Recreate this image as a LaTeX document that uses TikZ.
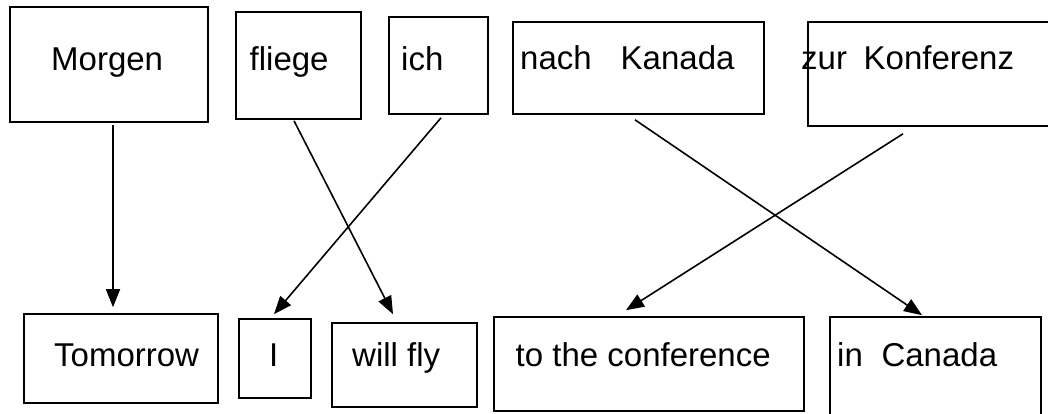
\documentclass[tikz,border=0pt]{standalone}
\usepackage{fontspec}
\setmainfont{Liberation Sans}
\usetikzlibrary{arrows.meta,calc}
\begin{document}
\begin{tikzpicture}[x=1pt,y=-1pt,
  box/.style={draw, line width=1.6pt, rectangle, inner sep=0pt},
  word/.style={anchor=base west, inner sep=0pt, font=\fontsize{33}{40}\selectfont},
  link/.style={line width=1.6pt, -{Triangle[length=18pt,width=14pt]}}]
\useasboundingbox[fill=white] (0,0) rectangle (1048,413);
\clip (0,0) rectangle (1048,413);
% top row boxes
\node[box, minimum width=198pt, minimum height=115pt] (morgen) at (109,64.5) {};
\node[box, minimum width=125pt, minimum height=107pt] (fliege) at (298.5,65.5) {};
\node[box, minimum width=99pt, minimum height=97pt] (ich) at (438.5,65.5) {};
\node[box, minimum width=251pt, minimum height=92pt] (nachk) at (638.5,68) {};
\node[box, minimum width=252pt, minimum height=104pt] (zurk) at (934,74) {};
% bottom row boxes
\node[box, minimum width=194pt, minimum height=89pt] (tomorrow) at (121,358.5) {};
\node[box, minimum width=72pt, minimum height=79pt] (i) at (275,358.5) {};
\node[box, minimum width=145pt, minimum height=84pt] (willfly) at (404.5,365) {};
\node[box, minimum width=310pt, minimum height=94pt] (conf) at (649,364) {};
\node[box, minimum width=211pt, minimum height=103pt] (incanada) at (935.5,368.5) {};
% texts
\node[word] (tmorgen) at (51,70) {Morgen};
\node[word] (tfliege) at (249.5,70) {fliege};
\node[word] (tich) at (401,70) {ich};
\node[word] (tnachk) at (520,69) {nach\hspace{29pt}Kanada};
\node[word] (tzurk) at (801,69) {zur\hspace{16.6pt}Konferenz};
\node[word] (ttomorrow) at (54,366) {Tomorrow};
\node[word] (ti) at (269,366) {I};
\node[word] (twillfly) at (352,366) {will fly};
\node[word] (tconf) at (515.5,366) {to the conference};
\node[word] (tincanada) at (837,366) {in\hspace{18.7pt}Canada};
% connectors
\draw[link] ($(morgen.south)+(4,2)$) -- ($(tomorrow.north)+(-8,-6)$);
\draw[link] ($(fliege.south)+(-4.5,1)$) -- ($(willfly.north)+(-11.5,-8)$);
\draw[link] ($(ich.south)+(2.5,3)$) -- ($(i.north)+(-1,-4)$);
\draw[link] ($(nachk.south)+(-3.5,5)$) -- ($(incanada.north)+(-13.5,-1)$);
\draw[link] ($(zurk.south)+(-31,7)$) -- ($(conf.north)+(-23,-6)$);
\end{tikzpicture}
\end{document}
